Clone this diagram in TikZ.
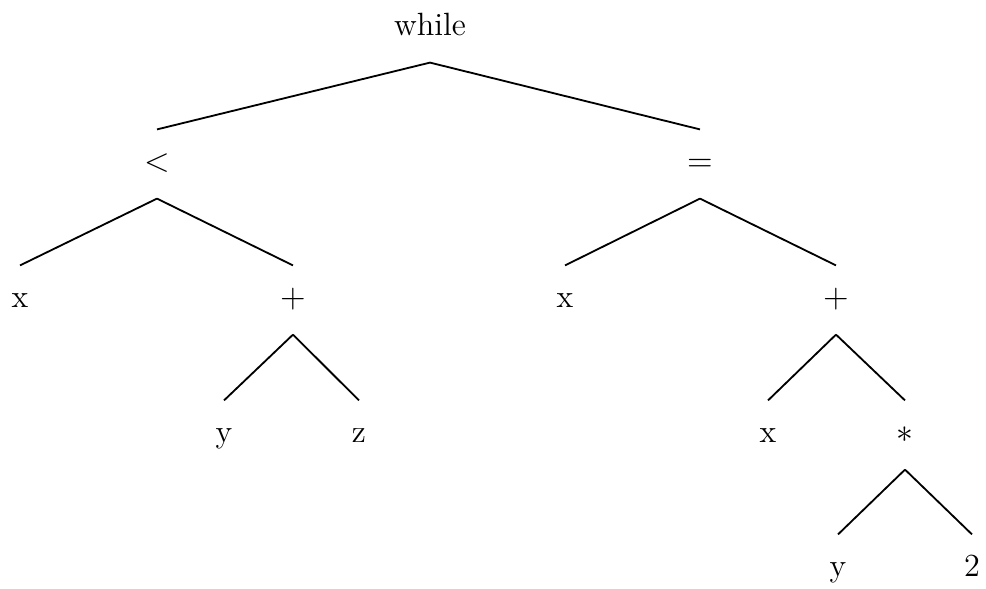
\documentclass[tikz,border=0pt]{standalone}
\begin{document}
\begin{tikzpicture}[x=0.357pt,y=-0.357pt,
  tn/.style={inner sep=0pt,anchor=base,text height=15pt,text depth=9.3pt,font=\fontsize{11.5}{14}\selectfont},
  br/.style={line width=0.65pt}]
\useasboundingbox (0,0) rectangle (986,589);
\node[tn] (w) at (430,36) {while};
\node[tn] (lt) at (157,172) {$<$};
\node[tn] (eq) at (700,172) {$=$};
\node[tn] (x1) at (20,308) {x};
\node[tn] (p1) at (293,308) {$+$};
\node[tn] (x2) at (565,308) {x};
\node[tn] (p2) at (836,308) {$+$};
\node[tn] (y1) at (224,443) {y};
\node[tn] (z1) at (359,443) {z};
\node[tn] (x3) at (768,443) {x};
\node[tn] (st) at (905,443) {$*$};
\node[tn] (y2) at (838,577) {y};
\node[tn] (two) at (972,577) {2};
\foreach \a/\b in {w/lt,w/eq,lt/x1,lt/p1,p1/y1,p1/z1,eq/x2,eq/p2,p2/x3,p2/st,st/y2,st/two}
  \draw[br] (\a.south) -- (\b.north);
\end{tikzpicture}
\end{document}
